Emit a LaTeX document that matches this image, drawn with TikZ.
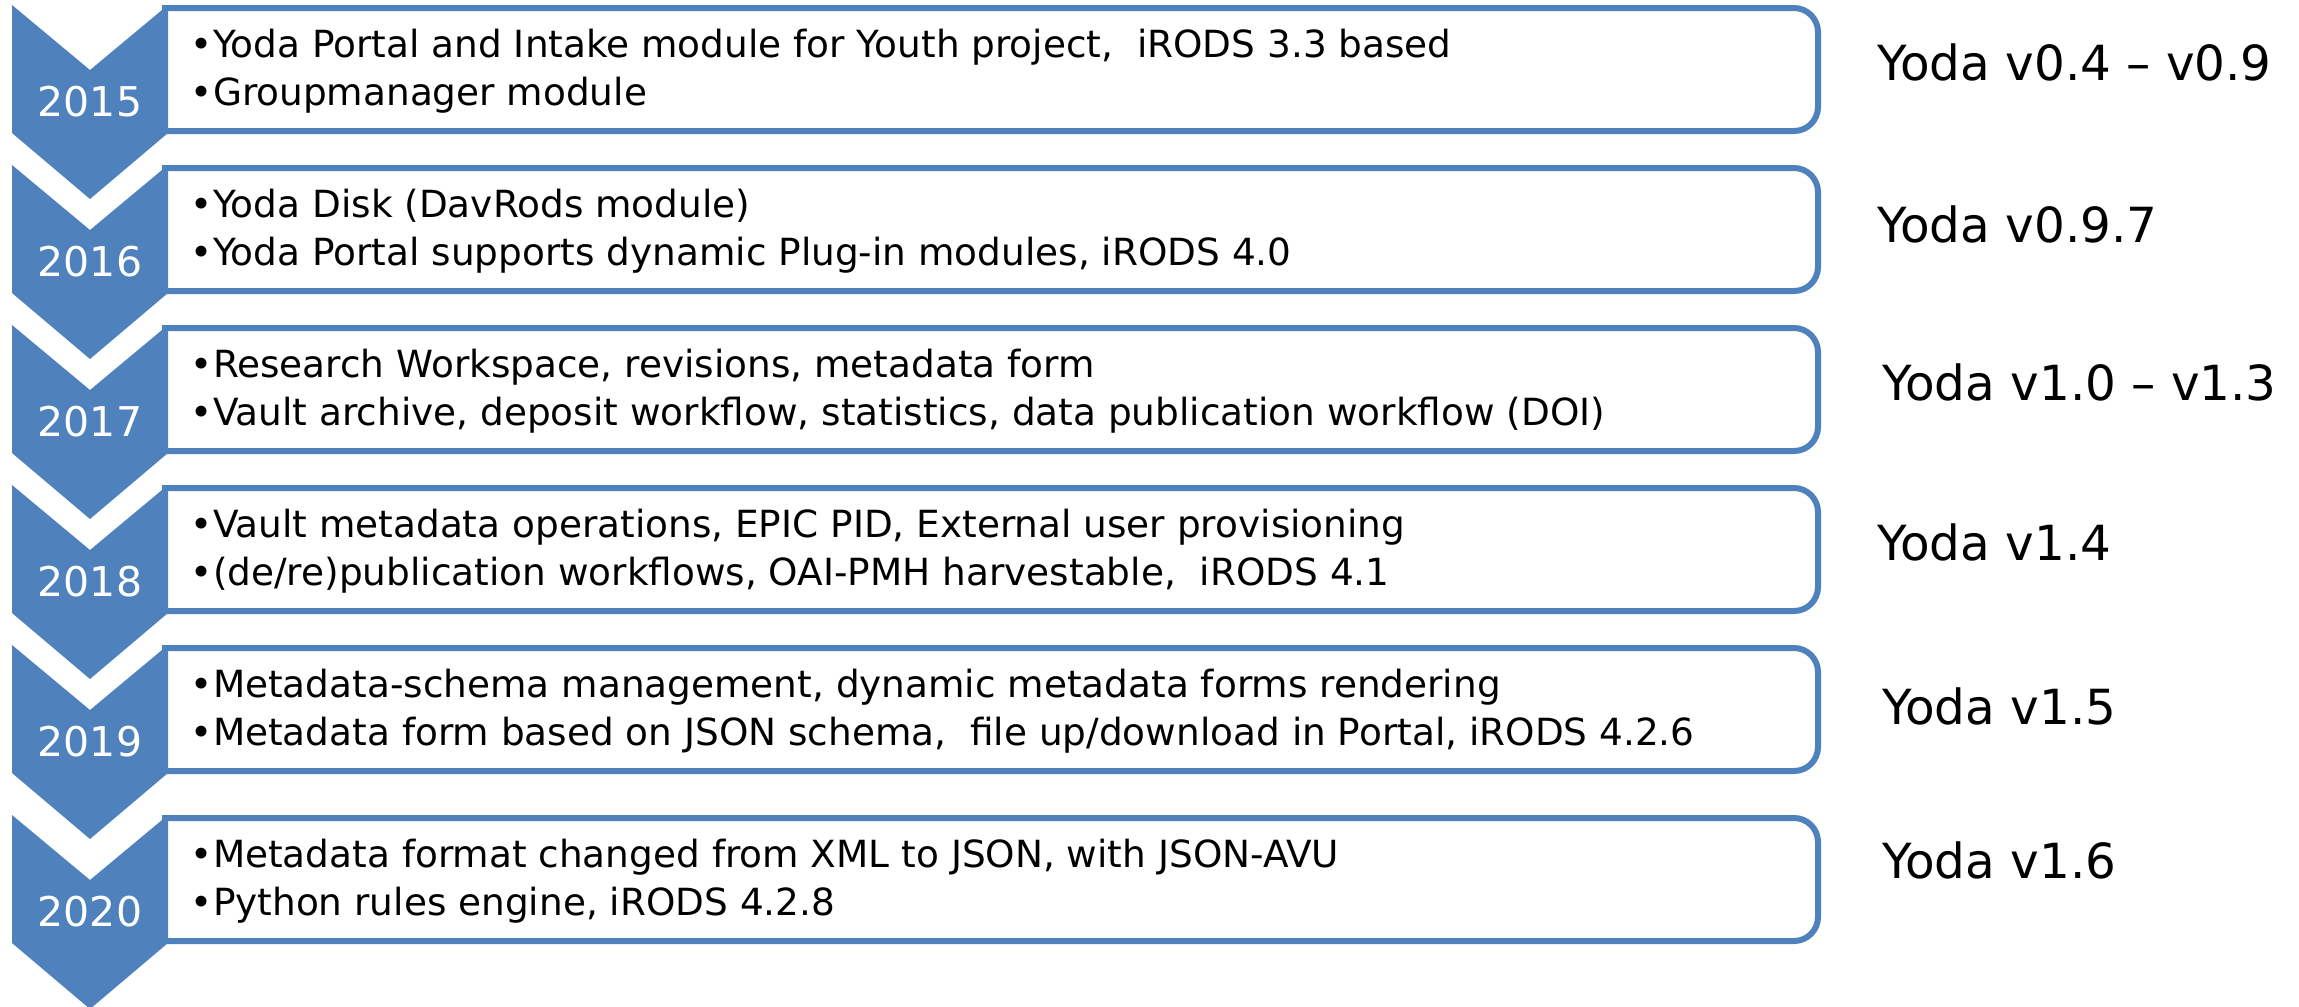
\documentclass[tikz,border=0pt]{standalone}
\usepackage{fontspec}
\setmainfont{DejaVu Sans}
\usepackage{xcolor}
\usepackage{tikz}
\usetikzlibrary{positioning}

\definecolor{yodablue}{HTML}{4F81BD}

\begin{document}
\begin{tikzpicture}[x=0.5pt,y=-0.5pt,
    every node/.style={inner sep=0pt,outer sep=0pt},
    chevron/.style={fill=yodablue,draw=none},
    boxline/.style={draw=yodablue,line width=3pt,rounded corners=12pt,fill=white},
    year/.style={text=white,font=\fontsize{20.5pt}{24pt}\selectfont,anchor=base},
    item/.style={font=\fontsize{18.7pt}{22pt}\selectfont,anchor=base west},
    release/.style={font=\fontsize{24.2pt}{28pt}\selectfont,anchor=base west}]
  \useasboundingbox (0,0) rectangle (2299,1007);
  % one row per year: outlined box, arrow on top, then the texts
  \foreach \yr/\T/\la/\lb/\rel/\rx/\rb in {
      2015/5/{Yoda Portal and Intake module for Youth project,~ iRODS 3.3 based}/{Groupmanager module}/{Yoda v0.4 – v0.9}/1877/80,
      2016/165/{Yoda Disk (DavRods module)}/{Yoda Portal supports dynamic Plug-in modules, iRODS 4.0}/{Yoda v0.9.7}/1877/242,
      2017/325/{Research Workspace, revisions, metadata form}/{Vault archive, deposit workflow, statistics, data publication workflow (DOI)}/{Yoda v1.0 – v1.3}/1882/400,
      2018/485/{Vault metadata operations, EPIC PID, External user provisioning}/{(de/re)publication workflows, OAI-PMH harvestable,~ iRODS 4.1}/{Yoda v1.4}/1877/560,
      2019/645/{Metadata-schema management, dynamic metadata forms rendering}/{Metadata form based on JSON schema,~ file up/download in Portal, iRODS 4.2.6}/{Yoda v1.5}/1882/724,
      2020/815/{Metadata format changed from XML to JSON, with JSON-AVU}/{Python rules engine, iRODS 4.2.8}/{Yoda v1.6}/1882/878} {
    \draw[boxline] (162,{\T+3}) -- (1818,{\T+3}) -- (1818,{\T+126}) -- (162,{\T+126});
    \fill[chevron] (12,\T) -- (90,{\T+65}) -- (168,\T) -- (168,{\T+128})
      -- (90,{\T+194}) -- (12,{\T+128}) -- cycle;
    \node[year] (y\yr) at (90,{\T+111}) {\yr};
    \node[item] (a\yr) at (190,{\T+52}) {•\kern0.5pt\la};
    \node[item] (b\yr) at (190,{\T+100}) {•\kern0.5pt\lb};
    \node[release] (v\yr) at (\rx,\rb) {\rel};
  }
\end{tikzpicture}
\end{document}
